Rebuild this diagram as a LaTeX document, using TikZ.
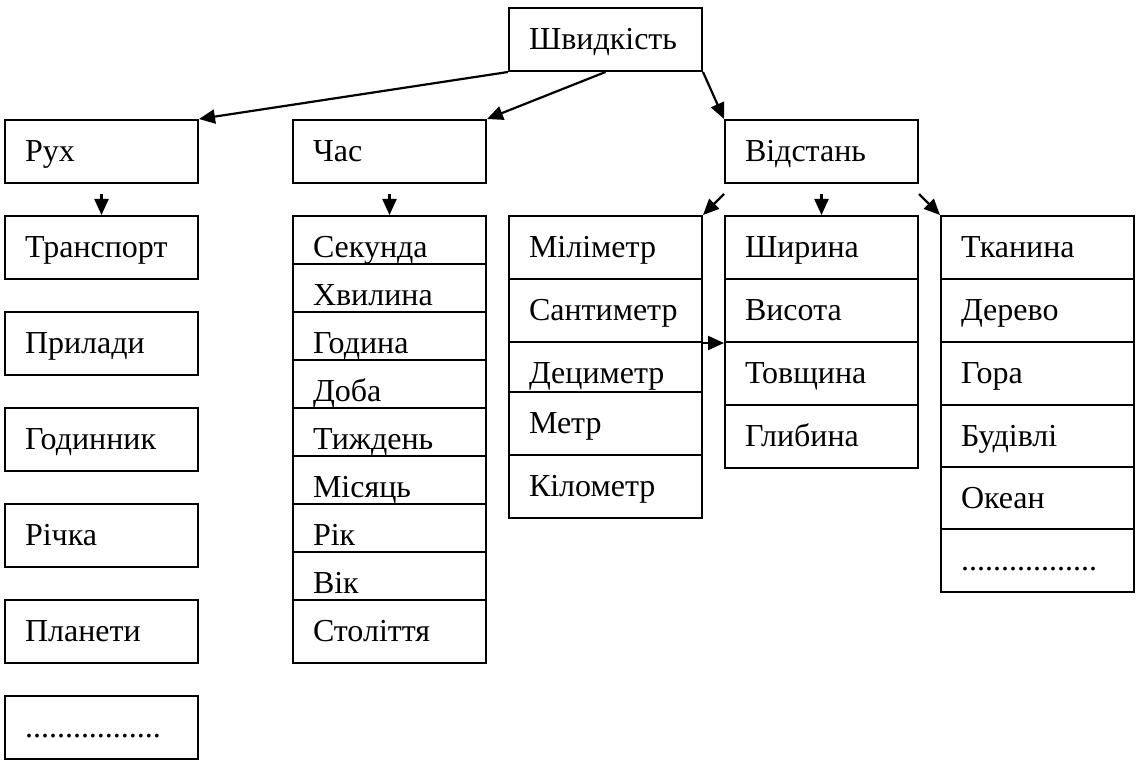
\documentclass[tikz,border=0pt]{standalone}
\usepackage{fontspec}
\setmainfont{Liberation Serif}
\usepackage{tikz}
\usetikzlibrary{arrows.meta,positioning}

\begin{document}
\begin{tikzpicture}[x=1pt,y=-1pt,
  every node/.style={draw,fill=white,line width=2pt,anchor=north west,minimum height=63pt,text width=153pt,
    inner xsep=20pt,inner ysep=0pt,align=left,text height=20pt,text depth=0pt,font=\fontsize{32}{38}\selectfont},
  e/.style={line width=2.2pt,-{Triangle[length=16pt,width=14pt]}}]
  \useasboundingbox (0,0) rectangle (1136,765);
  \node (shv) at (508,7) {Швидкість};
  \node (rukh) at (4,119) {Рух}; \node (chas) at (292,119) {Час}; \node (vid) at (724,119) {Відстань};
  % left column
  \node (tr) at (4,215) {Транспорт}; \node (pryl) at (4,311) {Прилади}; \node (god) at (4,407) {Годинник};
  \node (rich) at (4,503) {Річка}; \node (plan) at (4,599) {Планети}; \node (dotsl) at (4,695) {.................};
  % time
  \node (sek) at (292,215) {Секунда}; \node (khv) at (292,263) {Хвилина}; \node (hod) at (292,311) {Година};
  \node (doba) at (292,359) {Доба}; \node (tyzh) at (292,407) {Тиждень}; \node (mis) at (292,455) {Місяць};
  \node (rik) at (292,503) {Рік}; \node (vik) at (292,551) {Вік}; \node (stol) at (292,599) {Століття};
  % units
  \node (mili) at (508,215) {Міліметр}; \node (santy) at (508,278) {Сантиметр}; \node (detsy) at (508,341) {Дециметр};
  \node (metr) at (508,391) {Метр}; \node (kilo) at (508,454) {Кілометр};
  % sizes
  \node (shyr) at (724,215) {Ширина}; \node (vys) at (724,278) {Висота}; \node (tovsh) at (724,341) {Товщина};
  \node (hlyb) at (724,404) {Глибина};
  % objects
  \node (tkan) at (940,215) {Тканина}; \node (der) at (940,278) {Дерево}; \node (hora) at (940,341) {Гора};
  \node (bud) at (940,404) {Будівлі}; \node (okean) at (940,466) {Океан}; \node (dotsr) at (940,528) {.................};
  \draw[e] (shv.south west) -- (rukh.north east);
  \draw[e] (shv.south) -- (chas.north east);
  \draw[e] (shv.south east) -- (vid.north west);
  \draw[e] ([yshift=-10pt]rukh.south) -- (tr.north);
  \draw[e] ([yshift=-10pt]chas.south) -- (sek.north);
  \draw[e] ([yshift=-10pt]vid.south west) -- (mili.north east);
  \draw[e] ([yshift=-10pt]vid.south) -- (shyr.north);
  \draw[e] ([yshift=-10pt]vid.south east) -- (tkan.north west);
  \draw[e] (santy.south east) -- (santy.south east -| tovsh.west);
\end{tikzpicture}
\end{document}
